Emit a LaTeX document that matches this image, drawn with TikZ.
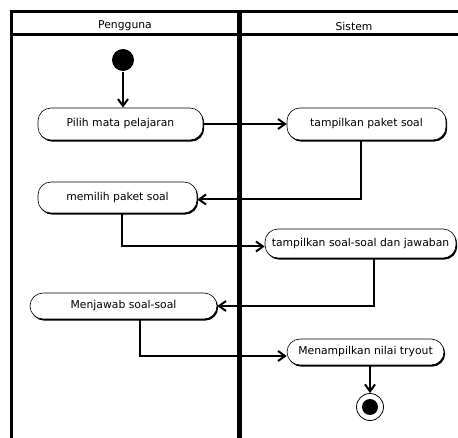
\documentclass[tikz,border=0pt]{standalone}
\usepackage{fontspec}
\setmainfont{DejaVu Sans}
\usetikzlibrary{arrows.meta,shadows}

\begin{document}
\begin{tikzpicture}[x=1pt,y=-1pt,>={Straight Barb[length=7pt,width=10pt]},line width=2pt]
    \tikzstyle{act}=[draw,line width=0.6pt,rounded corners=13pt,fill=white,inner sep=0pt,
      font=\fontsize{10.8}{12}\selectfont,
      drop shadow={shadow xshift=1.2pt,shadow yshift=-1.6pt,fill=black,opacity=1}]
    \tikzstyle{lane}=[line width=3pt]
    \useasboundingbox (0,0) rectangle (458,438);

    % swimlanes
    \draw[lane] (458,11.5) -- (11,11.5) -- (11,438);
    \draw[lane] (11,34.5) -- (458,34.5);
    \draw[line width=5pt] (239.5,10) -- (239.5,438);
    \node[font=\fontsize{10.8}{12}\selectfont] (L1) at (125,26) {Pengguna};
    \node[font=\fontsize{10.8}{12}\selectfont] (L2) at (354,26) {Sistem};

    % activities
    \node[circle,fill,inner sep=0pt,minimum size=22pt] (start) at (123,60) {};
    \node[act,minimum width=165pt,minimum height=32pt] (P1) at (120.5,124) {Pilih mata pelajaran};
    \node[act,minimum width=159pt,minimum height=32pt] (S1) at (366.5,124) {tampilkan paket soal};
    \node[act,minimum width=159pt,minimum height=31pt] (P2) at (117.5,197.5) {memilih paket soal};
    \node[act,minimum width=191pt,minimum height=29pt] (S2) at (360.5,243.5) {tampilkan soal-soal dan jawaban};
    \node[act,minimum width=187pt,minimum height=26pt] (P3) at (123.5,306) {Menjawab soal-soal};
    \node[act,minimum width=157pt,minimum height=26pt] (S3) at (365.5,352) {Menampilkan nilai tryout};
    \node[circle,draw,line width=0.8pt,fill=white,inner sep=0pt,minimum size=27pt] (stop) at (370,407) {};
    \node[circle,fill,inner sep=0pt,minimum size=16pt] (stopdot) at (stop) {};

    \draw[->] (start) -- (start |- P1.north);
    \draw[->] (P1) -- (S1);
    \draw[->] ([xshift=-6pt]S1.south) |- ([yshift=-2pt]P2.east);
    \draw[->] ([xshift=4.5pt]P2.south) |- ([yshift=-3pt]S2.west);
    \draw[->] ([xshift=13.5pt]S2.south) |- (P3.east);
    \draw[->] ([xshift=16.5pt]P3.south) |- ([yshift=-4pt]S3.west);
    \draw[->] (S3.south -| stop) -- (stop);
\end{tikzpicture}
\end{document}
